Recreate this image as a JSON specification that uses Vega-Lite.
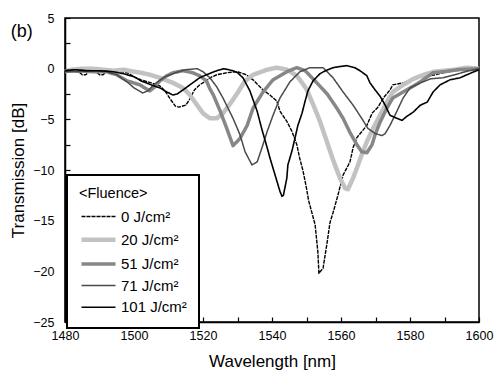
{
  "$schema": "https://vega.github.io/schema/vega-lite/v6.json",
  "width": 414,
  "height": 304,
  "autosize": "none",
  "padding": {"left": 65, "top": 18, "right": 19, "bottom": 48},
  "background": "white",
  "title": {"text": "(b)", "orient": "top", "anchor": "start", "frame": "bounds", "offset": 0, "baseline": "middle", "dy": 38, "dx": 1, "font": "Liberation Sans", "fontSize": 18, "fontWeight": "normal", "color": "black"},
  "config": {
    "view": {"stroke": "black", "strokeWidth": 1.5},
    "axis": {"domainColor": "black", "domainWidth": 1.5, "tickColor": "black", "tickWidth": 1.2, "tickSize": -5, "grid": false, "labelFont": "Liberation Sans", "labelFontSize": 12.5, "labelColor": "black", "titleFont": "Liberation Sans", "titleFontSize": 17, "titleFontWeight": "normal", "titleColor": "black", "labelFlush": false, "labelOverlap": false},
    "legend": {"strokeWidth": 2}
  },
  "data": {"values": [
    {"f": "0 J/cm²", "wl": 1480, "t": -0.3}, {"f": "0 J/cm²", "wl": 1482, "t": -0.2}, {"f": "0 J/cm²", "wl": 1484, "t": -0.3}, {"f": "0 J/cm²", "wl": 1485, "t": -0.6}, {"f": "0 J/cm²", "wl": 1486, "t": -0.6}, {"f": "0 J/cm²", "wl": 1487, "t": -0.3}, {"f": "0 J/cm²", "wl": 1489, "t": -0.3}, {"f": "0 J/cm²", "wl": 1490, "t": -0.6}, {"f": "0 J/cm²", "wl": 1491, "t": -0.6}, {"f": "0 J/cm²", "wl": 1492, "t": -0.3}, {"f": "0 J/cm²", "wl": 1495, "t": -0.2}, {"f": "0 J/cm²", "wl": 1498, "t": -0.4}, {"f": "0 J/cm²", "wl": 1500, "t": -0.8}, {"f": "0 J/cm²", "wl": 1502, "t": -1.1}, {"f": "0 J/cm²", "wl": 1505, "t": -1.4}, {"f": "0 J/cm²", "wl": 1507.5, "t": -1.7}, {"f": "0 J/cm²", "wl": 1509, "t": -2.2}, {"f": "0 J/cm²", "wl": 1510.5, "t": -3.0}, {"f": "0 J/cm²", "wl": 1512, "t": -3.7}, {"f": "0 J/cm²", "wl": 1513, "t": -3.8}, {"f": "0 J/cm²", "wl": 1515, "t": -3.6}, {"f": "0 J/cm²", "wl": 1516, "t": -3.1}, {"f": "0 J/cm²", "wl": 1517.5, "t": -2.1}, {"f": "0 J/cm²", "wl": 1519, "t": -1.6}, {"f": "0 J/cm²", "wl": 1521, "t": -1.2}, {"f": "0 J/cm²", "wl": 1522, "t": -0.9}, {"f": "0 J/cm²", "wl": 1524, "t": -0.6}, {"f": "0 J/cm²", "wl": 1527, "t": -0.4}, {"f": "0 J/cm²", "wl": 1530, "t": -0.3}, {"f": "0 J/cm²", "wl": 1532.5, "t": -0.6}, {"f": "0 J/cm²", "wl": 1534.5, "t": -1.1}, {"f": "0 J/cm²", "wl": 1537.4, "t": -2.1}, {"f": "0 J/cm²", "wl": 1539.4, "t": -2.6}, {"f": "0 J/cm²", "wl": 1541.4, "t": -3.2}, {"f": "0 J/cm²", "wl": 1542.3, "t": -4.2}, {"f": "0 J/cm²", "wl": 1544.3, "t": -5.2}, {"f": "0 J/cm²", "wl": 1545.8, "t": -6.2}, {"f": "0 J/cm²", "wl": 1547.2, "t": -7.5}, {"f": "0 J/cm²", "wl": 1548, "t": -8.8}, {"f": "0 J/cm²", "wl": 1549, "t": -10.1}, {"f": "0 J/cm²", "wl": 1550, "t": -11.8}, {"f": "0 J/cm²", "wl": 1550.6, "t": -13.0}, {"f": "0 J/cm²", "wl": 1552.5, "t": -15.4}, {"f": "0 J/cm²", "wl": 1553.3, "t": -18.1}, {"f": "0 J/cm²", "wl": 1553.6, "t": -20.2}, {"f": "0 J/cm²", "wl": 1554.8, "t": -19.7}, {"f": "0 J/cm²", "wl": 1556, "t": -17.1}, {"f": "0 J/cm²", "wl": 1556.8, "t": -15.2}, {"f": "0 J/cm²", "wl": 1557.7, "t": -14.2}, {"f": "0 J/cm²", "wl": 1559.1, "t": -12.5}, {"f": "0 J/cm²", "wl": 1560.6, "t": -10.5}, {"f": "0 J/cm²", "wl": 1562.6, "t": -9.2}, {"f": "0 J/cm²", "wl": 1563.5, "t": -7.8}, {"f": "0 J/cm²", "wl": 1564.6, "t": -6.8}, {"f": "0 J/cm²", "wl": 1567.5, "t": -5.6}, {"f": "0 J/cm²", "wl": 1569, "t": -4.4}, {"f": "0 J/cm²", "wl": 1570.7, "t": -3.8}, {"f": "0 J/cm²", "wl": 1572.5, "t": -2.8}, {"f": "0 J/cm²", "wl": 1574.2, "t": -2.1}, {"f": "0 J/cm²", "wl": 1575, "t": -1.6}, {"f": "0 J/cm²", "wl": 1578, "t": -1.4}, {"f": "0 J/cm²", "wl": 1580, "t": -1.2}, {"f": "0 J/cm²", "wl": 1583, "t": -0.8}, {"f": "0 J/cm²", "wl": 1586, "t": -0.7}, {"f": "0 J/cm²", "wl": 1589.6, "t": -0.4}, {"f": "0 J/cm²", "wl": 1594.5, "t": -0.1}, {"f": "0 J/cm²", "wl": 1600, "t": 0.1},

    {"f": "20 J/cm²", "wl": 1480, "t": -0.3}, {"f": "20 J/cm²", "wl": 1482, "t": -0.1}, {"f": "20 J/cm²", "wl": 1485, "t": 0.0}, {"f": "20 J/cm²", "wl": 1488, "t": 0.0}, {"f": "20 J/cm²", "wl": 1491, "t": -0.1}, {"f": "20 J/cm²", "wl": 1494, "t": -0.2}, {"f": "20 J/cm²", "wl": 1497, "t": -0.1}, {"f": "20 J/cm²", "wl": 1500, "t": -0.3}, {"f": "20 J/cm²", "wl": 1502, "t": -0.4}, {"f": "20 J/cm²", "wl": 1504.6, "t": -0.6}, {"f": "20 J/cm²", "wl": 1507.5, "t": -0.9}, {"f": "20 J/cm²", "wl": 1511.3, "t": -1.4}, {"f": "20 J/cm²", "wl": 1514.2, "t": -1.9}, {"f": "20 J/cm²", "wl": 1516.2, "t": -2.6}, {"f": "20 J/cm²", "wl": 1518.3, "t": -3.6}, {"f": "20 J/cm²", "wl": 1520, "t": -4.4}, {"f": "20 J/cm²", "wl": 1522, "t": -4.9}, {"f": "20 J/cm²", "wl": 1524, "t": -4.9}, {"f": "20 J/cm²", "wl": 1525.8, "t": -4.4}, {"f": "20 J/cm²", "wl": 1528, "t": -3.4}, {"f": "20 J/cm²", "wl": 1530, "t": -2.4}, {"f": "20 J/cm²", "wl": 1532, "t": -1.3}, {"f": "20 J/cm²", "wl": 1534.5, "t": -0.6}, {"f": "20 J/cm²", "wl": 1538.6, "t": -0.1}, {"f": "20 J/cm²", "wl": 1541.4, "t": 0.1}, {"f": "20 J/cm²", "wl": 1544.3, "t": -0.1}, {"f": "20 J/cm²", "wl": 1547.2, "t": -0.7}, {"f": "20 J/cm²", "wl": 1550, "t": -2.0}, {"f": "20 J/cm²", "wl": 1552, "t": -3.6}, {"f": "20 J/cm²", "wl": 1553.9, "t": -5.2}, {"f": "20 J/cm²", "wl": 1555.9, "t": -7.2}, {"f": "20 J/cm²", "wl": 1557.7, "t": -9.0}, {"f": "20 J/cm²", "wl": 1559.7, "t": -10.8}, {"f": "20 J/cm²", "wl": 1561.2, "t": -11.8}, {"f": "20 J/cm²", "wl": 1562, "t": -11.9}, {"f": "20 J/cm²", "wl": 1563.5, "t": -10.8}, {"f": "20 J/cm²", "wl": 1564.6, "t": -9.8}, {"f": "20 J/cm²", "wl": 1566, "t": -8.5}, {"f": "20 J/cm²", "wl": 1567.5, "t": -7.2}, {"f": "20 J/cm²", "wl": 1569.3, "t": -5.9}, {"f": "20 J/cm²", "wl": 1571.3, "t": -4.6}, {"f": "20 J/cm²", "wl": 1573.3, "t": -3.3}, {"f": "20 J/cm²", "wl": 1575, "t": -2.3}, {"f": "20 J/cm²", "wl": 1578, "t": -1.6}, {"f": "20 J/cm²", "wl": 1581, "t": -1.0}, {"f": "20 J/cm²", "wl": 1584, "t": -0.6}, {"f": "20 J/cm²", "wl": 1587, "t": -0.3}, {"f": "20 J/cm²", "wl": 1590, "t": -0.2}, {"f": "20 J/cm²", "wl": 1593, "t": -0.1}, {"f": "20 J/cm²", "wl": 1596.5, "t": 0.1}, {"f": "20 J/cm²", "wl": 1600, "t": 0.0},

    {"f": "51 J/cm²", "wl": 1480, "t": -0.2}, {"f": "51 J/cm²", "wl": 1484, "t": -0.2}, {"f": "51 J/cm²", "wl": 1488, "t": -0.3}, {"f": "51 J/cm²", "wl": 1492, "t": -0.3}, {"f": "51 J/cm²", "wl": 1495, "t": -0.6}, {"f": "51 J/cm²", "wl": 1498, "t": -1.2}, {"f": "51 J/cm²", "wl": 1501.7, "t": -1.6}, {"f": "51 J/cm²", "wl": 1504.6, "t": -2.2}, {"f": "51 J/cm²", "wl": 1506, "t": -1.8}, {"f": "51 J/cm²", "wl": 1507.5, "t": -1.2}, {"f": "51 J/cm²", "wl": 1509.5, "t": -0.7}, {"f": "51 J/cm²", "wl": 1511.3, "t": -0.4}, {"f": "51 J/cm²", "wl": 1514.2, "t": -0.2}, {"f": "51 J/cm²", "wl": 1517, "t": -0.4}, {"f": "51 J/cm²", "wl": 1519, "t": -0.7}, {"f": "51 J/cm²", "wl": 1521, "t": -1.2}, {"f": "51 J/cm²", "wl": 1522, "t": -2.0}, {"f": "51 J/cm²", "wl": 1523, "t": -2.6}, {"f": "51 J/cm²", "wl": 1525, "t": -4.2}, {"f": "51 J/cm²", "wl": 1527, "t": -6.0}, {"f": "51 J/cm²", "wl": 1528.7, "t": -7.6}, {"f": "51 J/cm²", "wl": 1530.7, "t": -6.9}, {"f": "51 J/cm²", "wl": 1532.8, "t": -5.6}, {"f": "51 J/cm²", "wl": 1534.5, "t": -3.9}, {"f": "51 J/cm²", "wl": 1537.4, "t": -2.3}, {"f": "51 J/cm²", "wl": 1540.3, "t": -1.1}, {"f": "51 J/cm²", "wl": 1544.3, "t": -0.3}, {"f": "51 J/cm²", "wl": 1547.2, "t": 0.1}, {"f": "51 J/cm²", "wl": 1549.6, "t": -0.2}, {"f": "51 J/cm²", "wl": 1553, "t": -1.4}, {"f": "51 J/cm²", "wl": 1556, "t": -2.5}, {"f": "51 J/cm²", "wl": 1558.8, "t": -3.9}, {"f": "51 J/cm²", "wl": 1560.6, "t": -4.9}, {"f": "51 J/cm²", "wl": 1562.6, "t": -6.3}, {"f": "51 J/cm²", "wl": 1564.6, "t": -7.5}, {"f": "51 J/cm²", "wl": 1566, "t": -8.2}, {"f": "51 J/cm²", "wl": 1567.5, "t": -8.3}, {"f": "51 J/cm²", "wl": 1569, "t": -7.5}, {"f": "51 J/cm²", "wl": 1569.9, "t": -6.5}, {"f": "51 J/cm²", "wl": 1571.3, "t": -5.3}, {"f": "51 J/cm²", "wl": 1573.3, "t": -3.9}, {"f": "51 J/cm²", "wl": 1575, "t": -2.9}, {"f": "51 J/cm²", "wl": 1578, "t": -2.3}, {"f": "51 J/cm²", "wl": 1580.5, "t": -1.8}, {"f": "51 J/cm²", "wl": 1583, "t": -1.3}, {"f": "51 J/cm²", "wl": 1586.7, "t": -0.4}, {"f": "51 J/cm²", "wl": 1590, "t": -0.3}, {"f": "51 J/cm²", "wl": 1594, "t": -0.1}, {"f": "51 J/cm²", "wl": 1600, "t": 0.0},

    {"f": "71 J/cm²", "wl": 1480, "t": -0.3}, {"f": "71 J/cm²", "wl": 1484, "t": -0.3}, {"f": "71 J/cm²", "wl": 1488, "t": -0.2}, {"f": "71 J/cm²", "wl": 1492, "t": -0.3}, {"f": "71 J/cm²", "wl": 1495, "t": -0.6}, {"f": "71 J/cm²", "wl": 1498, "t": -1.3}, {"f": "71 J/cm²", "wl": 1500, "t": -1.9}, {"f": "71 J/cm²", "wl": 1502.5, "t": -2.4}, {"f": "71 J/cm²", "wl": 1504, "t": -2.2}, {"f": "71 J/cm²", "wl": 1506, "t": -1.5}, {"f": "71 J/cm²", "wl": 1509, "t": -0.8}, {"f": "71 J/cm²", "wl": 1512, "t": -0.4}, {"f": "71 J/cm²", "wl": 1515, "t": -0.1}, {"f": "71 J/cm²", "wl": 1518.3, "t": 0.0}, {"f": "71 J/cm²", "wl": 1520, "t": -0.3}, {"f": "71 J/cm²", "wl": 1522, "t": -0.9}, {"f": "71 J/cm²", "wl": 1524, "t": -1.8}, {"f": "71 J/cm²", "wl": 1525.8, "t": -2.9}, {"f": "71 J/cm²", "wl": 1528.7, "t": -4.9}, {"f": "71 J/cm²", "wl": 1530.7, "t": -6.5}, {"f": "71 J/cm²", "wl": 1532.2, "t": -8.2}, {"f": "71 J/cm²", "wl": 1534.2, "t": -9.5}, {"f": "71 J/cm²", "wl": 1535.7, "t": -9.2}, {"f": "71 J/cm²", "wl": 1537.1, "t": -7.8}, {"f": "71 J/cm²", "wl": 1538.6, "t": -6.2}, {"f": "71 J/cm²", "wl": 1540.3, "t": -4.6}, {"f": "71 J/cm²", "wl": 1542.3, "t": -2.9}, {"f": "71 J/cm²", "wl": 1545.2, "t": -1.3}, {"f": "71 J/cm²", "wl": 1548.1, "t": -0.3}, {"f": "71 J/cm²", "wl": 1551, "t": 0.1}, {"f": "71 J/cm²", "wl": 1554.8, "t": 0.1}, {"f": "71 J/cm²", "wl": 1557.7, "t": -0.9}, {"f": "71 J/cm²", "wl": 1560.6, "t": -2.3}, {"f": "71 J/cm²", "wl": 1563.5, "t": -3.6}, {"f": "71 J/cm²", "wl": 1566, "t": -4.9}, {"f": "71 J/cm²", "wl": 1567.8, "t": -5.9}, {"f": "71 J/cm²", "wl": 1569.9, "t": -6.4}, {"f": "71 J/cm²", "wl": 1571.9, "t": -6.6}, {"f": "71 J/cm²", "wl": 1572.8, "t": -6.4}, {"f": "71 J/cm²", "wl": 1574.2, "t": -5.6}, {"f": "71 J/cm²", "wl": 1576.2, "t": -4.2}, {"f": "71 J/cm²", "wl": 1578, "t": -2.9}, {"f": "71 J/cm²", "wl": 1580, "t": -1.9}, {"f": "71 J/cm²", "wl": 1583, "t": -1.4}, {"f": "71 J/cm²", "wl": 1586, "t": -1.0}, {"f": "71 J/cm²", "wl": 1589.6, "t": -0.9}, {"f": "71 J/cm²", "wl": 1593, "t": -0.6}, {"f": "71 J/cm²", "wl": 1596, "t": -0.3}, {"f": "71 J/cm²", "wl": 1600, "t": 0.0},

    {"f": "101 J/cm²", "wl": 1480, "t": -0.2}, {"f": "101 J/cm²", "wl": 1483, "t": -0.1}, {"f": "101 J/cm²", "wl": 1486, "t": -0.2}, {"f": "101 J/cm²", "wl": 1490, "t": -0.2}, {"f": "101 J/cm²", "wl": 1494, "t": -0.3}, {"f": "101 J/cm²", "wl": 1497, "t": -0.5}, {"f": "101 J/cm²", "wl": 1500, "t": -0.8}, {"f": "101 J/cm²", "wl": 1502, "t": -1.2}, {"f": "101 J/cm²", "wl": 1505, "t": -1.6}, {"f": "101 J/cm²", "wl": 1507.5, "t": -1.9}, {"f": "101 J/cm²", "wl": 1509.5, "t": -2.3}, {"f": "101 J/cm²", "wl": 1511.3, "t": -2.6}, {"f": "101 J/cm²", "wl": 1512.5, "t": -2.5}, {"f": "101 J/cm²", "wl": 1514.2, "t": -2.1}, {"f": "101 J/cm²", "wl": 1517, "t": -1.4}, {"f": "101 J/cm²", "wl": 1519, "t": -0.9}, {"f": "101 J/cm²", "wl": 1521, "t": -0.6}, {"f": "101 J/cm²", "wl": 1524, "t": -0.2}, {"f": "101 J/cm²", "wl": 1526, "t": 0.0}, {"f": "101 J/cm²", "wl": 1528.7, "t": -0.2}, {"f": "101 J/cm²", "wl": 1530, "t": -0.4}, {"f": "101 J/cm²", "wl": 1531.6, "t": -0.9}, {"f": "101 J/cm²", "wl": 1533.6, "t": -2.2}, {"f": "101 J/cm²", "wl": 1535.7, "t": -4.2}, {"f": "101 J/cm²", "wl": 1537, "t": -5.9}, {"f": "101 J/cm²", "wl": 1538.6, "t": -7.8}, {"f": "101 J/cm²", "wl": 1539.4, "t": -8.8}, {"f": "101 J/cm²", "wl": 1540.9, "t": -10.5}, {"f": "101 J/cm²", "wl": 1542.3, "t": -12.1}, {"f": "101 J/cm²", "wl": 1542.9, "t": -12.6}, {"f": "101 J/cm²", "wl": 1543.3, "t": -12.5}, {"f": "101 J/cm²", "wl": 1544.3, "t": -10.8}, {"f": "101 J/cm²", "wl": 1544.6, "t": -9.5}, {"f": "101 J/cm²", "wl": 1545.8, "t": -8.1}, {"f": "101 J/cm²", "wl": 1546.7, "t": -6.8}, {"f": "101 J/cm²", "wl": 1547.5, "t": -5.6}, {"f": "101 J/cm²", "wl": 1548.7, "t": -4.4}, {"f": "101 J/cm²", "wl": 1549.6, "t": -3.2}, {"f": "101 J/cm²", "wl": 1550.4, "t": -2.2}, {"f": "101 J/cm²", "wl": 1551.9, "t": -1.2}, {"f": "101 J/cm²", "wl": 1553.9, "t": -0.5}, {"f": "101 J/cm²", "wl": 1555.5, "t": -0.2}, {"f": "101 J/cm²", "wl": 1557.7, "t": 0.1}, {"f": "101 J/cm²", "wl": 1559.5, "t": 0.2}, {"f": "101 J/cm²", "wl": 1561.7, "t": 0.3}, {"f": "101 J/cm²", "wl": 1564, "t": 0.1}, {"f": "101 J/cm²", "wl": 1565.5, "t": -0.2}, {"f": "101 J/cm²", "wl": 1567.5, "t": -0.7}, {"f": "101 J/cm²", "wl": 1568.4, "t": -1.4}, {"f": "101 J/cm²", "wl": 1569.9, "t": -2.1}, {"f": "101 J/cm²", "wl": 1571.3, "t": -2.7}, {"f": "101 J/cm²", "wl": 1572.8, "t": -3.6}, {"f": "101 J/cm²", "wl": 1574.2, "t": -4.6}, {"f": "101 J/cm²", "wl": 1576.2, "t": -4.9}, {"f": "101 J/cm²", "wl": 1577.7, "t": -5.1}, {"f": "101 J/cm²", "wl": 1579.1, "t": -4.7}, {"f": "101 J/cm²", "wl": 1580.9, "t": -4.3}, {"f": "101 J/cm²", "wl": 1583, "t": -3.6}, {"f": "101 J/cm²", "wl": 1585, "t": -3.3}, {"f": "101 J/cm²", "wl": 1586.7, "t": -2.3}, {"f": "101 J/cm²", "wl": 1588.7, "t": -1.6}, {"f": "101 J/cm²", "wl": 1591.6, "t": -1.1}, {"f": "101 J/cm²", "wl": 1594.5, "t": -0.9}, {"f": "101 J/cm²", "wl": 1596.5, "t": -0.6}, {"f": "101 J/cm²", "wl": 1600, "t": -0.1}
  ]},
  "mark": {"type": "line", "strokeJoin": "round", "strokeCap": "butt"},
  "encoding": {
    "x": {"field": "wl", "type": "quantitative", "scale": {"domain": [1480, 1600], "nice": false, "zero": false},
      "axis": {"title": "Wavelength [nm]", "format": "d", "values": [1480, 1490, 1500, 1510, 1520, 1530, 1540, 1550, 1560, 1570, 1580, 1590, 1600], "labelExpr": "datum.value % 20 === 0 ? datum.label : ''", "labelPadding": 12, "titlePadding": 12}},
    "y": {"field": "t", "type": "quantitative", "scale": {"domain": [-25, 5], "nice": false, "zero": false},
      "axis": {"title": "Transmission [dB]", "values": [-25, -22.5, -20, -17.5, -15, -12.5, -10, -7.5, -5, -2.5, 0, 2.5, 5], "labelExpr": "datum.value % 5 === 0 ? datum.label : ''", "labelPadding": 16, "titlePadding": 5}},
    "color": {"field": "f", "type": "nominal", "sort": ["0 J/cm²", "20 J/cm²", "51 J/cm²", "71 J/cm²", "101 J/cm²"],
      "scale": {"domain": ["0 J/cm²", "20 J/cm²", "51 J/cm²", "71 J/cm²", "101 J/cm²"], "range": ["#000000", "#c2c2c2", "#878787", "#4a4a4a", "#000000"]},
      "legend": {"title": "<Fluence>", "orient": "none", "legendX": 2, "legendY": 157, "fillColor": "white", "strokeColor": "black", "padding": 12, "titleFont": "Liberation Sans", "titleFontSize": 14.5, "titleFontWeight": "normal", "titleColor": "black", "titlePadding": 7, "labelFont": "Liberation Sans", "labelFontSize": 15, "labelColor": "black", "labelExpr": "pad(datum.label, 9, ' ', 'left')", "labelOffset": 23, "rowPadding": 5.7, "symbolType": "M-1,0H3.857", "symbolSize": 196}},
    "strokeWidth": {"field": "f", "type": "nominal",
      "scale": {"type": "ordinal", "domain": ["0 J/cm²", "20 J/cm²", "51 J/cm²", "71 J/cm²", "101 J/cm²"], "range": [1.4, 4.5, 3.5, 1.5, 1.6]}},
    "strokeDash": {"field": "f", "type": "nominal",
      "scale": {"domain": ["0 J/cm²", "20 J/cm²", "51 J/cm²", "71 J/cm²", "101 J/cm²"], "range": [[4, 1], [1, 0], [1, 0], [1, 0], [1, 0]]}}
  }
}
